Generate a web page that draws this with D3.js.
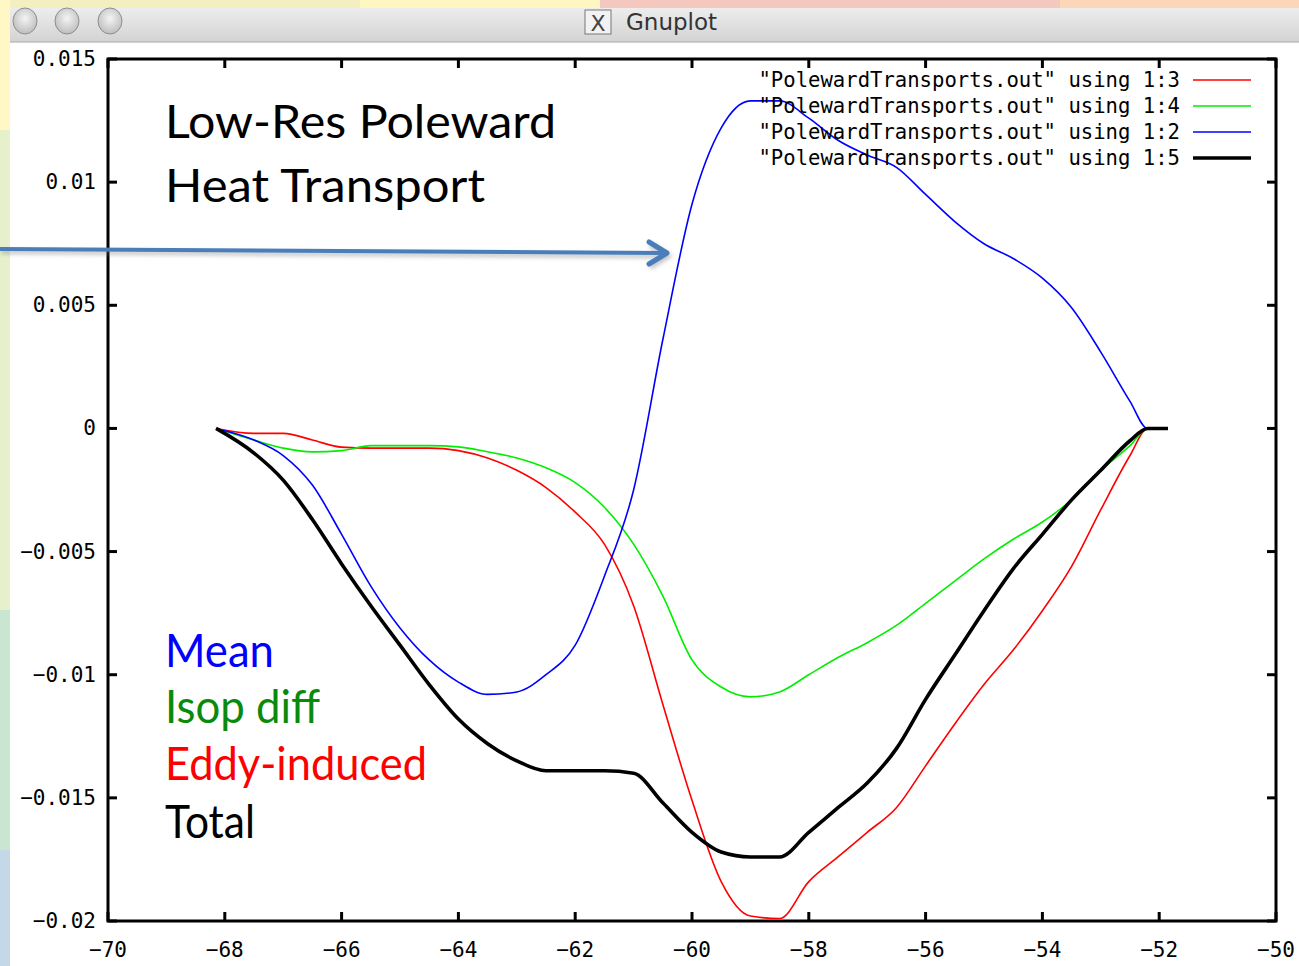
<!DOCTYPE html>
<html>
<head>
<meta charset="utf-8">
<script src="https://cdn.jsdelivr.net/npm/d3@7"></script>
<style>
  html, body { margin: 0; padding: 0; background: #ffffff; }
  svg { display: block; }
</style>
</head>
<body>
<svg id="chart" width="1299" height="966"></svg>
<script>
// ---------- data ----------
const latitude = [-68.15, -67.5, -67, -66.5, -66, -65.5, -65, -64.5, -64, -63.5, -63, -62.5, -62, -61.5, -61, -60.5, -60, -59.5, -59, -58.5, -58, -57.5, -57, -56.5, -56, -55.5, -55, -54.5, -54, -53.5, -53, -52.5, -52.2, -51.85];
const meanTransport = [0, -0.00047, -0.0011, -0.0023, -0.0043, -0.0064, -0.0081, -0.0094, -0.0103, -0.0108, -0.0107, -0.0100, -0.0088, -0.0060, -0.0025, 0.0036, 0.0091, 0.0122, 0.0133, 0.0133, 0.0126, 0.0117, 0.0111, 0.0106, 0.0095, 0.0084, 0.0075, 0.0069, 0.0061, 0.0049, 0.0031, 0.0011, 0, 0];
const eddyTransport = [0, -0.0002, -0.0002, -0.00047, -0.00076, -0.0008, -0.0008, -0.0008, -0.0009, -0.0012, -0.0017, -0.0024, -0.0034, -0.0047, -0.0072, -0.0112, -0.0151, -0.0184, -0.0198, -0.0199, -0.0184, -0.0174, -0.0164, -0.0154, -0.0137, -0.0120, -0.0104, -0.0090, -0.0074, -0.0056, -0.0033, -0.0011, 0, 0];
const isopTransport = [0, -0.00047, -0.0008, -0.00095, -0.0009, -0.0007, -0.0007, -0.0007, -0.00075, -0.00095, -0.0012, -0.0016, -0.0022, -0.0032, -0.0047, -0.0068, -0.0094, -0.0105, -0.0109, -0.0107, -0.0100, -0.0093, -0.0087, -0.0080, -0.0071, -0.0062, -0.0053, -0.0045, -0.0038, -0.0029, -0.0017, -0.0007, 0, 0];
const totalTransport = [0, -0.0010, -0.0021, -0.0037, -0.0055, -0.0072, -0.0088, -0.0104, -0.0118, -0.0128, -0.0135, -0.0139, -0.0139, -0.0139, -0.0140, -0.0152, -0.0164, -0.0172, -0.0174, -0.0174, -0.0164, -0.0154, -0.0144, -0.0130, -0.0110, -0.0092, -0.0074, -0.0057, -0.0043, -0.0029, -0.0017, -0.0005, 0, 0];

const xTicks = [-70, -68, -66, -64, -62, -60, -58, -56, -54, -52, -50];
const yTicks = [0.015, 0.01, 0.005, 0, -0.005, -0.01, -0.015, -0.02];
const yTickLabels = ["0.015", "0.01", "0.005", "0", "\u22120.005", "\u22120.01", "\u22120.015", "\u22120.02"];
const legendLabels = ['"PolewardTransports.out" using 1:3', '"PolewardTransports.out" using 1:4', '"PolewardTransports.out" using 1:2', '"PolewardTransports.out" using 1:5'];
const annotationTitle = ["Low-Res Poleward", "Heat Transport"];
const annotationNames = ["Mean", "Isop diff", "Eddy-induced", "Total"];

// ---------- layout ----------
const svg = d3.select("#chart");
const plot = { left: 108, right: 1276, top: 59, bottom: 921 };
const x = d3.scaleLinear().domain([-70, -50]).range([plot.left, plot.right]);
const y = d3.scaleLinear().domain([-0.02, 0.015]).range([plot.bottom, plot.top]);

// slide background strips
const topStrip = [["#f3efbf", 0, 360], ["#fff7c2", 360, 600], ["#f4c8bf", 600, 1060], ["#fbd6b9", 1060, 1299]];
topStrip.forEach(s => svg.append("rect").attr("x", s[1]).attr("y", 0).attr("width", s[2] - s[1]).attr("height", 10).attr("fill", s[0]));
const leftStrip = [["#fff8c6", 0, 130], ["#e6f1cb", 130, 610], ["#c8e6d1", 610, 850], ["#c4d8e7", 850, 966]];
leftStrip.forEach(s => svg.append("rect").attr("x", 0).attr("y", s[1]).attr("width", 10).attr("height", s[2] - s[1]).attr("fill", s[0]));

// window title bar
const defs = svg.append("defs");
const tg = defs.append("linearGradient").attr("id", "titleGrad").attr("x1", 0).attr("y1", 0).attr("x2", 0).attr("y2", 1);
tg.append("stop").attr("offset", "0%").attr("stop-color", "#ededed");
tg.append("stop").attr("offset", "100%").attr("stop-color", "#d3d3d3");
const bg = defs.append("radialGradient").attr("id", "btnGrad").attr("cx", "50%").attr("cy", "40%").attr("r", "60%");
bg.append("stop").attr("offset", "0%").attr("stop-color", "#f4f4f4");
bg.append("stop").attr("offset", "100%").attr("stop-color", "#bdbdbd");
const shadow = defs.append("filter").attr("id", "arrowShadow").attr("x", "-5%").attr("y", "-50%").attr("width", "110%").attr("height", "200%");
shadow.append("feGaussianBlur").attr("stdDeviation", 2);

svg.append("rect").attr("x", 10).attr("y", 8).attr("width", 1289).attr("height", 34).attr("fill", "url(#titleGrad)");
svg.append("line").attr("x1", 10).attr("x2", 1299).attr("y1", 42).attr("y2", 42).attr("stroke", "#a8a8a8").attr("stroke-width", 1);
[25, 67, 110].forEach(cx => svg.append("ellipse").attr("cx", cx).attr("cy", 21).attr("rx", 12).attr("ry", 13)
  .attr("fill", "url(#btnGrad)").attr("stroke", "#8e8e8e").attr("stroke-width", 1));
svg.append("rect").attr("x", 585).attr("y", 10).attr("width", 26).attr("height", 24).attr("fill", "#f2f2f2").attr("stroke", "#777").attr("stroke-width", 1);
svg.append("text").attr("x", 598).attr("y", 31).attr("text-anchor", "middle").attr("font-family", "DejaVu Sans").attr("font-size", 22).attr("fill", "#444").text("X");
svg.append("text").attr("x", 626).attr("y", 30).attr("font-family", "DejaVu Sans").attr("font-size", 23).attr("fill", "#333").text("Gnuplot");

// window body
svg.append("rect").attr("x", 10).attr("y", 43).attr("width", 1289).attr("height", 923).attr("fill", "#ffffff");

// ---------- axes ----------
const monoFont = "DejaVu Sans Mono";
const axisG = svg.append("g");
xTicks.forEach(t => {
  axisG.append("line").attr("x1", x(t)).attr("x2", x(t)).attr("y1", plot.bottom).attr("y2", plot.bottom - 9).attr("stroke", "#000").attr("stroke-width", 3);
  axisG.append("line").attr("x1", x(t)).attr("x2", x(t)).attr("y1", plot.top).attr("y2", plot.top + 9).attr("stroke", "#000").attr("stroke-width", 3);
  axisG.append("text").attr("x", x(t)).attr("y", 957).attr("text-anchor", "middle")
    .attr("font-family", monoFont).attr("font-size", 21).attr("fill", "#000")
    .text(d3.format("d")(t));
});
yTicks.forEach((t, i) => {
  axisG.append("line").attr("x1", plot.left).attr("x2", plot.left + 9).attr("y1", y(t)).attr("y2", y(t)).attr("stroke", "#000").attr("stroke-width", 3);
  axisG.append("line").attr("x1", plot.right).attr("x2", plot.right - 9).attr("y1", y(t)).attr("y2", y(t)).attr("stroke", "#000").attr("stroke-width", 3);
  axisG.append("text").attr("x", 96).attr("y", y(t) + 7).attr("text-anchor", "end")
    .attr("font-family", monoFont).attr("font-size", 21).attr("fill", "#000")
    .text(yTickLabels[i]);
});
axisG.append("rect").attr("x", plot.left).attr("y", plot.top).attr("width", plot.right - plot.left).attr("height", plot.bottom - plot.top)
  .attr("fill", "none").attr("stroke", "#000").attr("stroke-width", 3);

// ---------- series ----------
const series = [
  { values: eddyTransport, color: "#ff0000", width: 1.6 },
  { values: isopTransport, color: "#00ee00", width: 1.6 },
  { values: meanTransport, color: "#0000ff", width: 1.6 },
  { values: totalTransport, color: "#000000", width: 3.6 }
];
const line = d3.line().x(d => x(d[0])).y(d => y(d[1])).curve(d3.curveMonotoneX);
series.forEach(s => {
  svg.append("path").datum(latitude.map((l, i) => [l, s.values[i]]))
    .attr("d", line).attr("fill", "none").attr("stroke", s.color).attr("stroke-width", s.width)
    .attr("stroke-linejoin", "round");
});

// ---------- legend ----------
const legendY = [87, 113, 139, 165];
series.forEach((s, i) => {
  svg.append("text").attr("x", 1180).attr("y", legendY[i]).attr("text-anchor", "end")
    .attr("font-family", monoFont).attr("font-size", 20.6).attr("fill", "#000").text(legendLabels[i]);
  svg.append("line").attr("x1", 1193).attr("x2", 1251).attr("y1", legendY[i] - 7).attr("y2", legendY[i] - 7)
    .attr("stroke", s.color).attr("stroke-width", s.width);
});

// ---------- annotations ----------
const annFont = "Lato";
const titleWidths = [391, 320];
annotationTitle.forEach((t, i) => {
  svg.append("text").attr("x", 165).attr("y", [138, 202][i]).attr("font-family", annFont).attr("font-size", 47)
    .attr("textLength", titleWidths[i]).attr("lengthAdjust", "spacingAndGlyphs")
    .attr("fill", "#000").text(t);
});
const annColors = ["#0000ff", "#0a8a0a", "#ff0000", "#000000"];
const annY = [667, 723, 780, 838];
const annWidths = [109, 155, 262, 90];
annotationNames.forEach((t, i) => {
  svg.append("text").attr("x", 165).attr("y", annY[i]).attr("font-family", annFont).attr("font-size", 46)
    .attr("textLength", annWidths[i]).attr("lengthAdjust", "spacingAndGlyphs")
    .attr("fill", annColors[i]).text(t);
});

// arrow
const arrowG = svg.append("g");
arrowG.append("g").attr("filter", "url(#arrowShadow)").attr("opacity", 0.45).attr("transform", "translate(1,3)")
  .call(g => {
    g.append("line").attr("x1", 0).attr("y1", 249).attr("x2", 664).attr("y2", 253).attr("stroke", "#777").attr("stroke-width", 4);
    g.append("polyline").attr("points", "649,242 667,253 649,264").attr("fill", "none").attr("stroke", "#777").attr("stroke-width", 5);
  });
arrowG.append("line").attr("x1", 0).attr("y1", 249).attr("x2", 664).attr("y2", 253).attr("stroke", "#4a7ebb").attr("stroke-width", 4);
arrowG.append("polyline").attr("points", "649,242 667,253 649,264").attr("fill", "none").attr("stroke", "#4a7ebb")
  .attr("stroke-width", 5).attr("stroke-linecap", "round").attr("stroke-linejoin", "round");
</script>
</body>
</html>
